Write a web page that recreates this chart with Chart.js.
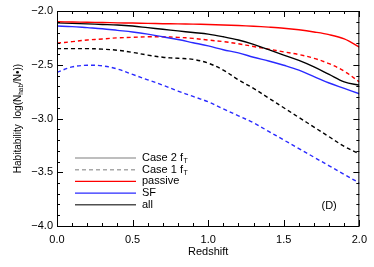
<!DOCTYPE html>
<html>
<head>
<meta charset="utf-8">
<script src="https://cdn.jsdelivr.net/npm/chart.js@4/dist/chart.umd.min.js"></script>
<style>
  html, body { margin: 0; padding: 0; background: #fff; }
  #wrap { width: 374px; height: 267px; }
</style>
</head>
<body>
<div id="wrap"><canvas id="habChart"></canvas></div>
<script>
// redshift grid shared by every curve
const redshift = [0.0, 0.1, 0.2, 0.3, 0.4, 0.5, 0.6, 0.7, 0.8, 0.9, 1.0,
                  1.1, 1.2, 1.3, 1.4, 1.5, 1.6, 1.7, 1.8, 1.9, 2.0];

// Case 2 f_T (solid)
const passiveCase2 = [-2.100, -2.102, -2.105, -2.107, -2.110, -2.112, -2.115, -2.118, -2.120, -2.122, -2.125,
                      -2.130, -2.135, -2.142, -2.150, -2.160, -2.175, -2.195, -2.220, -2.260, -2.335];
const sfCase2      = [-2.140, -2.145, -2.155, -2.165, -2.180, -2.195, -2.215, -2.240, -2.265, -2.295, -2.325,
                      -2.360, -2.390, -2.430, -2.465, -2.505, -2.550, -2.610, -2.670, -2.720, -2.770];
const allCase2     = [-2.110, -2.115, -2.120, -2.125, -2.130, -2.140, -2.155, -2.170, -2.185, -2.200, -2.215,
                      -2.240, -2.270, -2.310, -2.360, -2.410, -2.460, -2.520, -2.590, -2.660, -2.690];

// Case 1 f_T (dashed)
const passiveCase1 = [-2.300, -2.285, -2.270, -2.260, -2.250, -2.245, -2.240, -2.240, -2.245, -2.255, -2.270,
                      -2.285, -2.305, -2.330, -2.355, -2.380, -2.405, -2.440, -2.490, -2.560, -2.660];
const sfCase1      = [-2.570, -2.520, -2.505, -2.510, -2.540, -2.590, -2.640, -2.690, -2.745, -2.795, -2.845,
                      -2.910, -2.975, -3.040, -3.120, -3.200, -3.280, -3.360, -3.440, -3.520, -3.600];
const allCase1     = [-2.350, -2.350, -2.350, -2.355, -2.365, -2.385, -2.410, -2.430, -2.440, -2.450, -2.485,
                      -2.550, -2.640, -2.720, -2.810, -2.900, -2.990, -3.080, -3.170, -3.260, -3.330];

const xTicks = [0.0, 0.5, 1.0, 1.5, 2.0];
const yTicks = [-4.0, -3.5, -3.0, -2.5, -2.0];

const legendLabels = ['Case 2 f', 'Case 1 f', 'passive', 'SF', 'all'];
const legendSubs   = ['T', 'T', '', '', ''];

const RED = '#ff0000';
const BLUE = '#2a2aff';
const BLACK = '#000000';
const FONT = 'Liberation Sans, Arial, Helvetica, sans-serif';

function pts(ys) {
  return redshift.map((x, i) => ({ x: x, y: ys[i] }));
}

function line(label, ys, color, dashed) {
  return {
    label: label,
    data: pts(ys),
    borderColor: color,
    borderWidth: 1.4,
    borderDash: dashed ? [4, 3] : [],
    pointRadius: 0,
    tension: 0.35,
    fill: false
  };
}

// box, inward ticks, legend, panel tag and y title (with subscripts)
const idlFrame = {
  id: 'idlFrame',
  afterDraw(chart) {
    const ctx = chart.ctx;
    const a = chart.chartArea;
    const xs = chart.scales.x;
    const ys = chart.scales.y;
    ctx.save();
    ctx.strokeStyle = '#000';
    ctx.lineWidth = 1;
    ctx.strokeRect(a.left + 0.5, a.top + 0.5, a.right - a.left - 1, a.bottom - a.top);

    ctx.beginPath();
    for (let i = 0; i <= 20; i++) {
      const v = i / 10;
      const px = Math.round(xs.getPixelForValue(v)) + 0.5;
      const len = (i % 5 === 0) ? 6 : 3;
      ctx.moveTo(px, a.bottom); ctx.lineTo(px, a.bottom - len);
      ctx.moveTo(px, a.top); ctx.lineTo(px, a.top + len);
    }
    for (let i = 0; i <= 20; i++) {
      const v = -4 + i / 10;
      const py = Math.round(ys.getPixelForValue(v)) + 0.5;
      const len = (i % 5 === 0) ? 6 : 3;
      ctx.moveTo(a.left, py); ctx.lineTo(a.left + len, py);
      ctx.moveTo(a.right, py); ctx.lineTo(a.right - len, py);
    }
    ctx.stroke();

    // legend
    const colors = ['#a8a8a8', '#a8a8a8', RED, BLUE, '#505050'];
    const dashes = [[], [4, 3], [], [], []];
    const x0 = a.left + 18, x1 = a.left + 79, tx = a.left + 85;
    const yTop = 158;
    ctx.font = '11px ' + FONT;
    ctx.textBaseline = 'middle';
    legendLabels.forEach((lab, i) => {
      const y = yTop + i * 11.7;
      ctx.beginPath();
      ctx.setLineDash(dashes[i]);
      ctx.strokeStyle = colors[i];
      ctx.lineWidth = 1.4;
      ctx.moveTo(x0, y); ctx.lineTo(x1, y);
      ctx.stroke();
      ctx.setLineDash([]);
      ctx.fillStyle = '#000';
      ctx.font = '11px ' + FONT;
      ctx.fillText(lab, tx, y);
      if (legendSubs[i]) {
        const w = ctx.measureText(lab).width;
        ctx.font = '7px ' + FONT;
        ctx.fillText(legendSubs[i], tx + w + 0.5, y + 3);
      }
    });

    // panel tag
    ctx.font = '11px ' + FONT;
    ctx.textAlign = 'center';
    ctx.fillText('(D)', xs.getPixelForValue(1.8), 206);

    // y title
    ctx.translate(18, (a.top + a.bottom) / 2);
    ctx.rotate(-Math.PI / 2);
    const parts = [['Habitability  log(N', 10, 0], ['hab', 6.5, 3], ['/N', 10, 0], ['\u2022', 10, 0], ['))', 10, 0]];
    let total = 0;
    parts.forEach(p => { ctx.font = p[1] + 'px ' + FONT; total += ctx.measureText(p[0]).width; });
    let cx = -total / 2;
    ctx.textAlign = 'left';
    parts.forEach(p => {
      ctx.font = p[1] + 'px ' + FONT;
      ctx.fillText(p[0], cx, p[2]);
      cx += ctx.measureText(p[0]).width;
    });
    ctx.restore();
  }
};

new Chart(document.getElementById('habChart'), {
  type: 'line',
  data: {
    datasets: [
      line('passive Case 2', passiveCase2, RED, false),
      line('SF Case 2', sfCase2, BLUE, false),
      line('all Case 2', allCase2, BLACK, false),
      line('passive Case 1', passiveCase1, RED, true),
      line('SF Case 1', sfCase1, BLUE, true),
      line('all Case 1', allCase1, BLACK, true)
    ]
  },
  options: {
    responsive: true,
    maintainAspectRatio: false,
    animation: false,
    layout: { padding: { left: 0, right: 13, top: 11, bottom: 8 } },
    plugins: {
      legend: { display: false },
      tooltip: { enabled: false }
    },
    scales: {
      x: {
        type: 'linear',
        min: 0,
        max: 2,
        afterFit(s) { s.height = 33; },
        afterBuildTicks(s) { s.ticks = xTicks.map(v => ({ value: v })); },
        grid: { display: false, drawTicks: false },
        border: { display: false },
        ticks: {
          color: '#000',
          font: { family: FONT, size: 11 },
          padding: 7,
          maxRotation: 0,
          callback: v => v.toFixed(1)
        },
        title: {
          display: true,
          text: 'Redshift',
          color: '#000',
          font: { family: FONT, size: 11 },
          padding: 0
        }
      },
      y: {
        type: 'linear',
        min: -4,
        max: -2,
        afterFit(s) { s.width = 57; },
        afterBuildTicks(s) { s.ticks = yTicks.map(v => ({ value: v })); },
        grid: { display: false, drawTicks: false },
        border: { display: false },
        ticks: {
          color: '#000',
          font: { family: FONT, size: 11 },
          padding: 4,
          callback: v => v.toFixed(1).replace('-', '\u2212')
        }
      }
    }
  },
  plugins: [idlFrame]
});
</script>
</body>
</html>
